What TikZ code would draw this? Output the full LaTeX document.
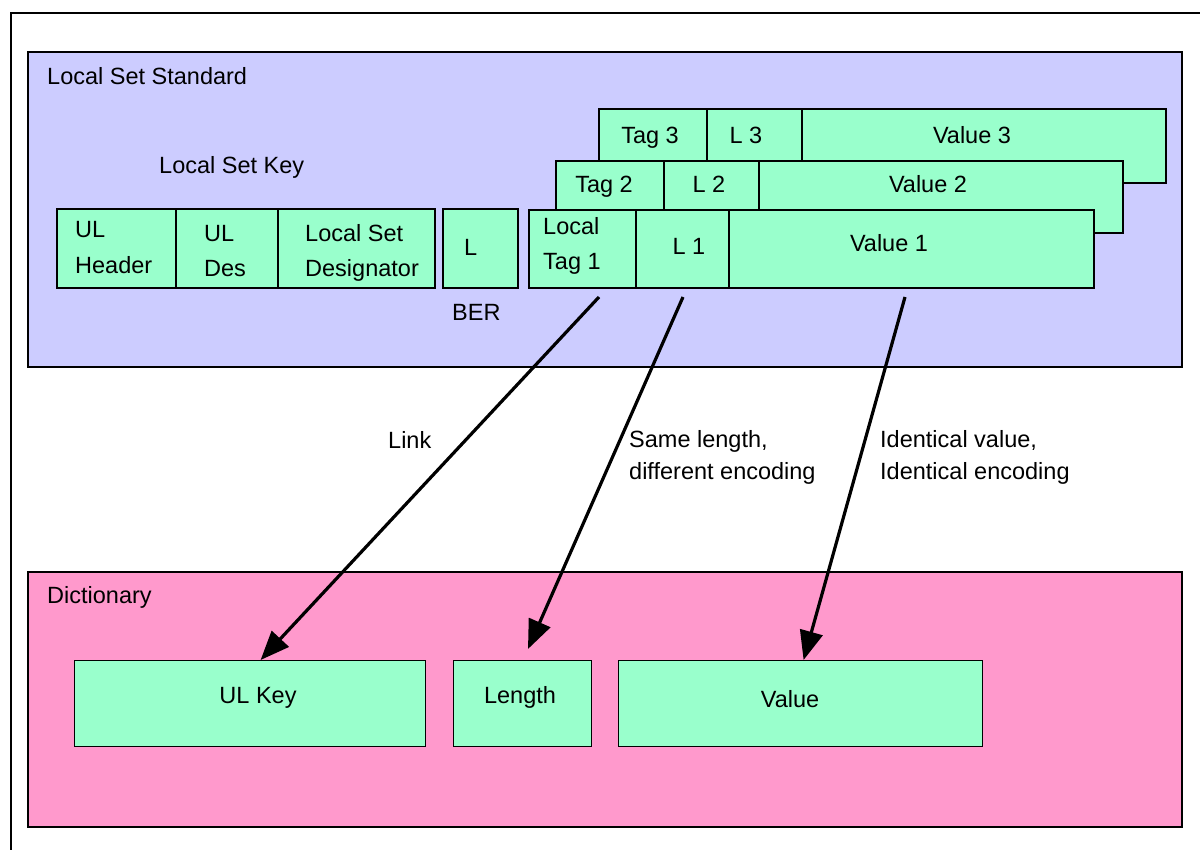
\documentclass[tikz,border=0pt]{standalone}
\usepackage{fontspec}
\setmainfont{Liberation Sans}
\usetikzlibrary{arrows.meta,calc}
\definecolor{lsblue}{HTML}{CCCCFF}
\definecolor{dpink}{HTML}{FF99CC}
\definecolor{cgreen}{HTML}{99FFCC}
\tikzset{
  frame/.style={draw=black, line width=1.4pt},
  panel/.style={draw=black, line width=1.4pt, rectangle},
  cell/.style={draw=black, line width=1.2pt, fill=cgreen},
  txt/.style={inner sep=0pt, font=\fontsize{23.5}{30}\selectfont},
  lw/.style={txt, anchor=base west},
  lc/.style={txt, anchor=base},
  link/.style={line width=3.2pt, -{Triangle[length=29pt,width=23pt]}}
}
\begin{document}
\begin{tikzpicture}[x=1pt,y=-1pt]
\useasboundingbox (0,0) rectangle (1200,850);
% outer frame
\coordinate (fa) at (11,850);
\coordinate (fb) at (11,13);
\coordinate (fc) at (1200,13);
\draw[frame] (fa) -- (fb) -- (fc);

% Local Set Standard panel
\path[panel, fill=lsblue] (28,52) rectangle (1182,367);
\node[lw] (tLSS) at (47,85) {Local Set Standard};
\node[lw] (tLSK) at (159,174) {Local Set Key};

% key cells
\draw[cell] (57,209) rectangle (176,288);
\draw[cell] (176,209) rectangle (278,288);
\draw[cell] (278,209) rectangle (435,288);
\draw[cell] (443,209) rectangle (518,288);
\node[lw] (tUL1) at (75,238) {UL};
\node[lw] (tHdr) at (75,274) {Header};
\node[lw] (tUL2) at (204,242) {UL};
\node[lw] (tDes) at (204,277) {Des};
\node[lw] (tLS) at (305,242) {Local Set};
\node[lw] (tDsg) at (305,277) {Designator};
\node[lw] (tL) at (464,256) {L};
\node[lw] (tBER) at (452,321) {BER};

% row 3 (back)
\draw[cell] (599,109) rectangle (707,183);
\draw[cell] (707,109) rectangle (802,183);
\draw[cell] (802,109) rectangle (1166,183);
\node[lc] (tT3) at (650,144) {Tag 3};
\node[lc] (tL3) at (746,144) {L 3};
\node[lc] (tV3) at (972,144) {Value 3};

% row 2
\draw[cell] (556,161) rectangle (664,233);
\draw[cell] (664,161) rectangle (759,233);
\draw[cell] (759,161) rectangle (1123,233);
\node[lc] (tT2) at (604,193) {Tag 2};
\node[lc] (tL2) at (709,193) {L 2};
\node[lc] (tV2) at (928,193) {Value 2};

% row 1 (front)
\draw[cell] (529,210) rectangle (636,288);
\draw[cell] (636,210) rectangle (729,288);
\draw[cell] (729,210) rectangle (1094,288);
\node[lw] (tLoc) at (543,235) {Local};
\node[lw] (tTg1) at (543,270) {Tag 1};
\node[lc] (tL1) at (689,255) {L 1};
\node[lc] (tV1) at (889,252) {Value 1};

% Dictionary panel
\path[panel, fill=dpink] (28,572) rectangle (1182,827);
\node[lw] (tDict) at (47,603) {Dictionary};
\node[cell, minimum width=351pt, minimum height=86pt, anchor=north west] (ulkey) at (74,660) {};
\node[cell, minimum width=138pt, minimum height=86pt, anchor=north west] (len) at (453,660) {};
\node[cell, minimum width=364pt, minimum height=86pt, anchor=north west] (val) at (618,660) {};
\node[lc] (tULK) at (258,703) {UL Key};
\node[lc] (tLen) at (520,703) {Length};
\node[lc] (tVal) at (790,707) {Value};

% connectors
\coordinate (s1) at (599,297);
\coordinate (s2) at (683,297);
\coordinate (s3) at (905,297);
\coordinate (e1) at ($(ulkey.north)+(10.5,0)$);
\coordinate (e2) at (528,649);
\coordinate (e3) at ($(val.north)+(3,0)$);
\draw[link] (s1) -- (e1);
\draw[link] (s2) -- (e2);
\draw[link] (s3) -- (e3);

\node[lw] (tLink) at (388,448) {Link};
\node[lw] (tSL1) at (629,447) {Same length,};
\node[lw] (tSL2) at (629,479) {different encoding};
\node[lw] (tIV1) at (880,447) {Identical value,};
\node[lw] (tIV2) at (880,479) {Identical encoding};
\end{tikzpicture}
\end{document}
